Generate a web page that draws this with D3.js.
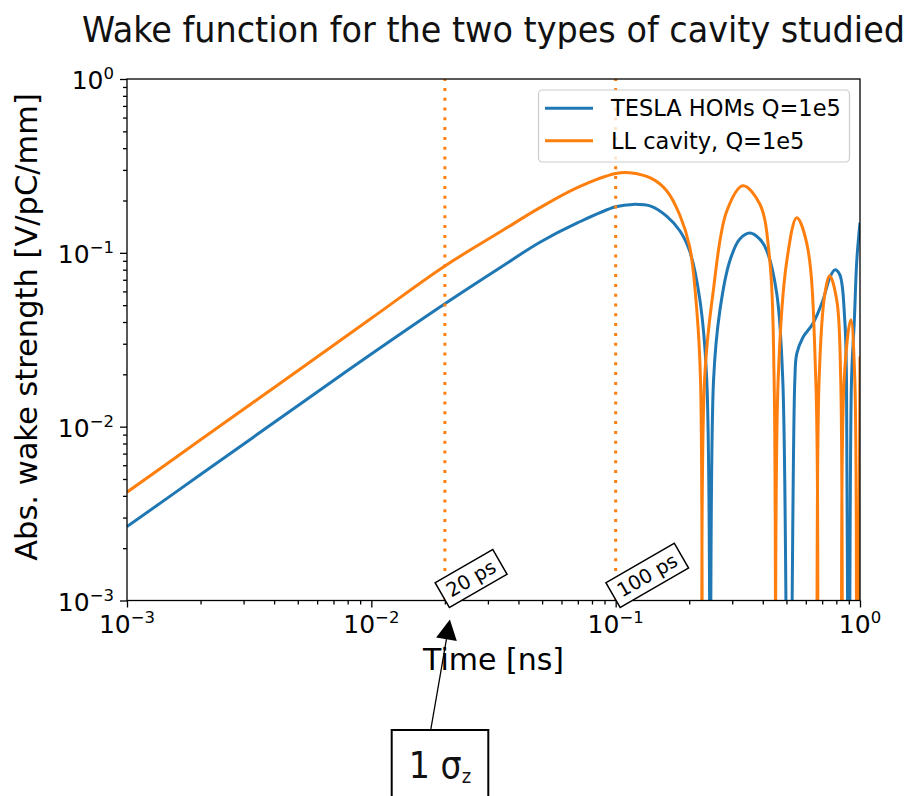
<!DOCTYPE html>
<html>
<head>
<meta charset="utf-8">
<script src="https://cdn.jsdelivr.net/npm/d3@7"></script>
<style>
  html, body { margin: 0; padding: 0; background: #fff; }
  svg { display: block; }
</style>
</head>
<body>
<svg id="chart" width="914" height="796"></svg>
<script>
// Time axis samples (ns) and absolute wake strength (V/pC/mm) per cavity type.
const tTesla = [0.001, 0.002, 0.005, 0.01, 0.02, 0.034, 0.049, 0.07, 0.1, 0.1176, 0.14, 0.162, 0.183, 0.201, 0.221, 0.236, 0.244, 0.2515,
  0.2669, 0.2933, 0.3222, 0.354, 0.389, 0.4157, 0.4566, 0.4831, 0.5113, 0.541, 0.551, 0.5831, 0.6408, 0.7042, 0.752, 0.7886, 0.8266,
  0.8665, 0.8806, 0.90, 0.923, 0.948, 0.970, 1.0];
const wTesla = [0.00266, 0.0053, 0.0132, 0.0262, 0.051, 0.083, 0.115, 0.149, 0.184, 0.190, 0.185, 0.162, 0.134, 0.102, 0.054, 0.0184, 1e-5, 0.0184,
  0.0464, 0.090, 0.120, 0.130, 0.120, 0.1027, 0.058, 0.0184, 1e-5, 0.0184, 0.0263, 0.0325, 0.0391, 0.053, 0.0718, 0.0798, 0.0748,
  0.0407, 0.0184, 1e-5, 0.0184, 0.0407, 0.090, 0.149];

const tLL = [0.001, 0.002, 0.005, 0.01, 0.02, 0.034, 0.049, 0.07, 0.1, 0.114, 0.14, 0.162, 0.183, 0.201, 0.215, 0.2225, 0.2267, 0.231,
  0.250, 0.285, 0.3315, 0.389, 0.4275, 0.4452, 0.4522, 0.4623, 0.5017, 0.551, 0.6058, 0.6594, 0.6676, 0.680, 0.718, 0.752, 0.804,
  0.834, 0.848, 0.861, 0.917, 0.952, 0.9676, 1.0];
const wLL = [0.0042, 0.0084, 0.021, 0.042, 0.084, 0.133, 0.182, 0.238, 0.286, 0.289, 0.268, 0.227, 0.165, 0.108, 0.046, 0.0184, 1e-5, 0.0184,
  0.058, 0.174, 0.243, 0.191, 0.090, 0.0184, 1e-5, 0.0184, 0.090, 0.159, 0.113, 0.0184, 1e-5, 0.0184, 0.058, 0.0738, 0.053,
  0.0184, 1e-5, 0.0184, 0.0412, 0.019, 1e-5, 0.025];

const seriesNames = ["TESLA HOMs Q=1e5", "LL cavity, Q=1e5"];
const seriesColors = ["#1f77b4", "#ff7f0e"];

// Marker times (ns) for the dotted guide lines and their labels.
const markerTimes = [0.02, 0.1];
const markerLabels = ["20 ps", "100 ps"];

const xMajor = [1e-3, 1e-2, 1e-1, 1];
const xMajorExp = ["\u22123", "\u22122", "\u22121", "0"];
const yMajor = [1e-3, 1e-2, 1e-1, 1];
const yMajorExp = ["\u22123", "\u22122", "\u22121", "0"];

(function draw() {
  const svg = d3.select("#chart");
  const pL = 127, pR = 860, pT = 79, pB = 600.5;

  const x = d3.scaleLog().domain([1e-3, 1]).range([pL, pR]);
  const y = d3.scaleLog().domain([1e-3, 1]).range([pB, pT]);

  const minors = [];
  for (let e = -3; e < 0; e++) for (let m = 2; m <= 9; m++) minors.push(m * Math.pow(10, e));

  const tickFont = "'DejaVu Sans', sans-serif";
  const headFont = "'Liberation Sans Narrow', 'DejaVu Sans Condensed', 'Open Sans', sans-serif";

  // Title
  svg.append("text")
    .attr("x", (pL + pR) / 2).attr("y", 42)
    .attr("text-anchor", "middle")
    .attr("font-family", headFont)
    .attr("font-size", 35)
    .attr("textLength", 823).attr("lengthAdjust", "spacingAndGlyphs")
    .attr("fill", "#111")
    .text("Wake function for the two types of cavity studied");

  svg.append("defs").append("clipPath").attr("id", "plotClip")
    .append("rect").attr("x", pL).attr("y", pT).attr("width", pR - pL).attr("height", pB - pT);

  // Curves
  const line = d3.line()
    .x(d => x(d[0]))
    .y(d => y(d[1]))
    .curve(d3.curveCatmullRom.alpha(0.5));

  const plot = svg.append("g").attr("clip-path", "url(#plotClip)");
  [[tTesla, wTesla], [tLL, wLL]].forEach((s, i) => {
    plot.append("path")
      .datum(d3.zip(s[0], s[1]))
      .attr("d", line)
      .attr("fill", "none")
      .attr("stroke", seriesColors[i])
      .attr("stroke-width", 3)
      .attr("stroke-linejoin", "round");
  });

  // Dotted guide lines
  markerTimes.forEach(t => {
    svg.append("line")
      .attr("x1", x(t)).attr("x2", x(t))
      .attr("y1", pB).attr("y2", pT)
      .attr("stroke", "#ff7f0e")
      .attr("stroke-width", 3)
      .attr("stroke-dasharray", "3,6.8");
  });

  // Axes: major and minor ticks, outward
  function styleAxis(g) {
    g.select(".domain").remove();
    g.selectAll(".tick line").attr("stroke", "#000").attr("stroke-width", 1.3);
  }
  const axes = [
    svg.append("g").attr("transform", `translate(0,${pB})`)
      .call(d3.axisBottom(x).tickValues(xMajor).tickSize(7).tickFormat("")),
    svg.append("g").attr("transform", `translate(0,${pB})`)
      .call(d3.axisBottom(x).tickValues(minors).tickSize(4).tickFormat("")),
    svg.append("g").attr("transform", `translate(${pL},0)`)
      .call(d3.axisLeft(y).tickValues(yMajor).tickSize(7).tickFormat("")),
    svg.append("g").attr("transform", `translate(${pL},0)`)
      .call(d3.axisLeft(y).tickValues(minors).tickSize(4).tickFormat(""))
  ];
  axes.forEach(styleAxis);

  // Tick labels with superscript exponents
  function powerLabel(g, base, exp) {
    g.append("tspan").attr("font-size", 25).text(base);
    g.append("tspan").attr("font-size", 16.5).attr("dy", -10).text(exp);
  }
  xMajor.forEach((v, i) => {
    const t = svg.append("text")
      .attr("x", x(v)).attr("y", 633)
      .attr("text-anchor", "middle")
      .attr("font-family", tickFont).attr("fill", "#000");
    powerLabel(t, "10", xMajorExp[i]);
  });
  yMajor.forEach((v, i) => {
    const t = svg.append("text")
      .attr("x", 114).attr("y", y(v) + 10)
      .attr("text-anchor", "end")
      .attr("font-family", tickFont).attr("fill", "#000");
    powerLabel(t, "10", yMajorExp[i]);
  });

  // Frame
  svg.append("rect")
    .attr("x", pL).attr("y", pT).attr("width", pR - pL).attr("height", pB - pT)
    .attr("fill", "none").attr("stroke", "#000").attr("stroke-width", 1.3);

  // Axis titles
  svg.append("text")
    .attr("x", (pL + pR) / 2).attr("y", 670)
    .attr("text-anchor", "middle")
    .attr("font-family", tickFont).attr("font-size", 30).attr("fill", "#000")
    .text("Time [ns]");
  svg.append("text")
    .attr("transform", "translate(37,327) rotate(-90)")
    .attr("text-anchor", "middle")
    .attr("font-family", tickFont).attr("font-size", 30.5).attr("fill", "#000")
    .text("Abs. wake strength [V/pC/mm]");

  // Rotated marker labels at the foot of the guide lines
  markerTimes.forEach((t, i) => {
    const g = svg.append("g")
      .attr("transform", `translate(${x(t) + 4.5},607.5) rotate(-30)`);
    const txt = g.append("text")
      .attr("font-family", tickFont).attr("font-size", 19.5).attr("fill", "#000")
      .attr("x", 6.5).attr("y", -7.5)
      .text(markerLabels[i]);
    const w = txt.node().getComputedTextLength() + 13;
    g.insert("rect", "text")
      .attr("x", 0).attr("y", -28.5).attr("width", w).attr("height", 28.5)
      .attr("fill", "#fff").attr("stroke", "#000").attr("stroke-width", 1.5);
  });

  // Legend
  const legend = svg.append("g");
  legend.append("rect")
    .attr("x", 538.5).attr("y", 90).attr("width", 311).attr("height", 72).attr("rx", 4)
    .attr("fill", "#fff").attr("fill-opacity", 0.8)
    .attr("stroke", "#cccccc").attr("stroke-width", 1.2);
  seriesNames.forEach((name, i) => {
    const cy = 108.3 + i * 32.4;
    legend.append("line")
      .attr("x1", 545).attr("x2", 593).attr("y1", cy).attr("y2", cy)
      .attr("stroke", seriesColors[i]).attr("stroke-width", 3);
    legend.append("text")
      .attr("x", 611).attr("y", cy + 7.8)
      .attr("font-family", tickFont).attr("font-size", 22.5).attr("fill", "#000")
      .text(name);
  });

  // Bunch length callout with arrow
  const sigmaT = 0.02;
  const tipX = x(sigmaT) + 5, tipY = 619.5;
  const tailX = 430.7, tailY = 730;
  const dx = tipX - tailX, dy = tipY - tailY, len = Math.hypot(dx, dy);
  const ux = dx / len, uy = dy / len, headL = 20, headW = 10.5;
  const bx = tipX - ux * headL, by = tipY - uy * headL;
  svg.append("line")
    .attr("x1", tailX).attr("y1", tailY).attr("x2", bx).attr("y2", by)
    .attr("stroke", "#000").attr("stroke-width", 1.3);
  svg.append("path")
    .attr("d", `M${tipX},${tipY}L${bx - uy * headW},${by + ux * headW}L${bx + uy * headW},${by - ux * headW}Z`)
    .attr("fill", "#000");

  svg.append("rect")
    .attr("x", 391.7).attr("y", 730).attr("width", 96.6).attr("height", 80)
    .attr("fill", "#fff").attr("stroke", "#000").attr("stroke-width", 2);
  const sig = svg.append("text")
    .attr("x", 440).attr("y", 778)
    .attr("text-anchor", "middle")
    .attr("font-family", headFont)
    .attr("font-size", 37).attr("fill", "#111");
  sig.append("tspan").text("1 \u03c3");
  sig.append("tspan").attr("font-size", 20).attr("dy", 5).text("z");
})();
</script>
</body>
</html>
